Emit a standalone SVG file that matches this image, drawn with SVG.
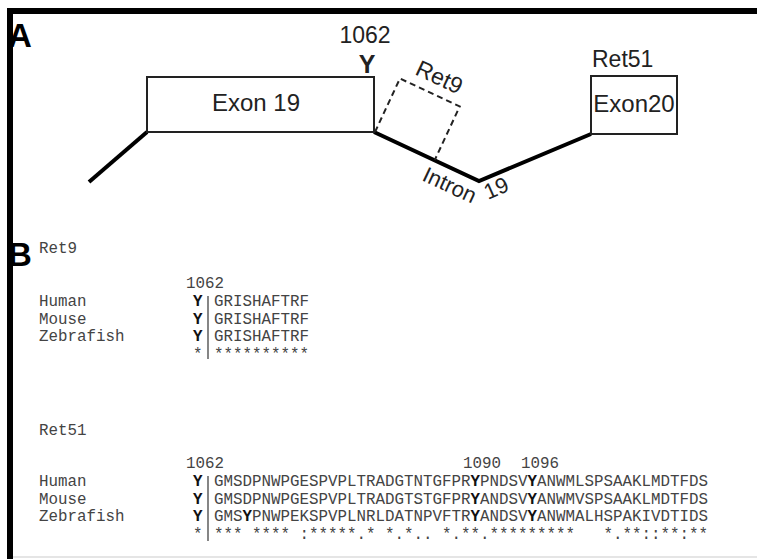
<svg xmlns="http://www.w3.org/2000/svg" width="757" height="559" viewBox="0 0 757 559">
  <style>
    .sans { font-family: "Liberation Sans", Arial, Helvetica, sans-serif; fill: #222; }
    .lbl { font-size: 23px; }
    .exon { font-size: 24px; }
    .panel { font-size: 33px; font-weight: bold; fill: #000; }
    .mono { font-family: "Liberation Mono", "Courier New", monospace; font-size: 15.83px; fill: #444; }
    .b { font-weight: bold; fill: #111; }
    .box { fill: none; stroke: #222; stroke-width: 2; }
    .dash { fill: none; stroke: #222; stroke-width: 2; stroke-dasharray: 6 4; }
    .intron { fill: none; stroke: #000; stroke-width: 4; stroke-linejoin: miter; }
    .bar { stroke: #444; stroke-width: 1.3; }
  </style>

  <rect width="757" height="559" fill="#fff"/>

  <!-- frame -->
  <g id="frame">
    <line x1="757" y1="11" x2="7" y2="11" stroke="#000" stroke-width="6"/>
    <line x1="10" y1="8" x2="10" y2="559" stroke="#000" stroke-width="6"/>
    <line x1="13" y1="557" x2="757" y2="557" stroke="#ddd" stroke-width="1.5"/>
  </g>

  <!-- panel A: gene structure -->
  <g id="connectors">
    <polyline class="intron" points="89,182 147,132"/>
    <polyline class="intron" points="374,132 479,181 591,134"/>
  </g>

  <g id="exon19">
    <rect class="box" x="147" y="77" width="227" height="55"/>
    <text class="sans exon" x="256" y="111" text-anchor="middle">Exon 19</text>
  </g>

  <g id="y1062">
    <text class="sans lbl" x="365" y="43" text-anchor="middle">1062</text>
    <text class="sans" x="367" y="73" text-anchor="middle" font-size="25" font-weight="bold">Y</text>
  </g>

  <g id="ret9">
    <path class="dash" transform="translate(375 132) rotate(25)" d="M0,0 V-59 H66 V0"/>
    <text class="sans lbl" transform="translate(414 74) rotate(25)">Ret9</text>
  </g>

  <g id="intron19">
    <text class="sans" font-size="22" transform="translate(421 180) rotate(25)">Intron</text>
    <text class="sans" font-size="22" transform="translate(488 200) rotate(-24)">19</text>
  </g>

  <g id="exon20">
    <rect class="box" x="591" y="76" width="86" height="58"/>
    <text class="sans exon" x="634" y="112" text-anchor="middle">Exon20</text>
    <text class="sans lbl" x="592" y="67">Ret51</text>
  </g>

  <text class="sans panel" x="8" y="47">A</text>
  <text class="sans panel" x="8" y="266">B</text>

  <!-- panel B: Ret9 alignment -->
  <g id="align-ret9" class="mono">
    <text x="39" y="253">Ret9</text>
    <text x="186" y="288">1062</text>
    <text x="39" y="306">Human</text>
    <text x="39" y="323.5">Mouse</text>
    <text x="39" y="341">Zebrafish</text>
    <text x="193" y="306" class="b">Y</text>
    <text x="193" y="323.5" class="b">Y</text>
    <text x="193" y="341" class="b">Y</text>
    <text x="193" y="358.5">*</text>
    <line class="bar" x1="208" y1="296" x2="208" y2="359"/>
    <text x="214" y="306">GRISHAFTRF</text>
    <text x="214" y="323.5">GRISHAFTRF</text>
    <text x="214" y="341">GRISHAFTRF</text>
    <text x="214" y="358.5">**********</text>
  </g>

  <!-- panel B: Ret51 alignment -->
  <g id="align-ret51" class="mono">
    <text x="39" y="435">Ret51</text>
    <text x="186" y="468">1062</text>
    <text x="463" y="468">1090</text>
    <text x="521" y="468">1096</text>
    <text x="39" y="486">Human</text>
    <text x="39" y="503.5">Mouse</text>
    <text x="39" y="521">Zebrafish</text>
    <text x="193" y="486" class="b">Y</text>
    <text x="193" y="503.5" class="b">Y</text>
    <text x="193" y="521" class="b">Y</text>
    <text x="193" y="538.5">*</text>
    <line class="bar" x1="208" y1="476" x2="208" y2="541"/>
    <text x="214" y="486">GMSDPNWPGESPVPLTRADGTNTGFPR<tspan class="b">Y</tspan>PNDSV<tspan class="b">Y</tspan>ANWMLSPSAAKLMDTFDS</text>
    <text x="214" y="503.5">GMSDPNWPGESPVPLTRADGTSTGFPR<tspan class="b">Y</tspan>ANDSV<tspan class="b">Y</tspan>ANWMVSPSAAKLMDTFDS</text>
    <text x="214" y="521">GMS<tspan class="b">Y</tspan>PNWPEKSPVPLNRLDATNPVFTR<tspan class="b">Y</tspan>ANDSV<tspan class="b">Y</tspan>ANWMALHSPAKIVDTIDS</text>
    <text x="214" y="538.5" xml:space="preserve">*** **** :*****.* *.*.. *.**.*********   *.**::**:**</text>
  </g>
</svg>
